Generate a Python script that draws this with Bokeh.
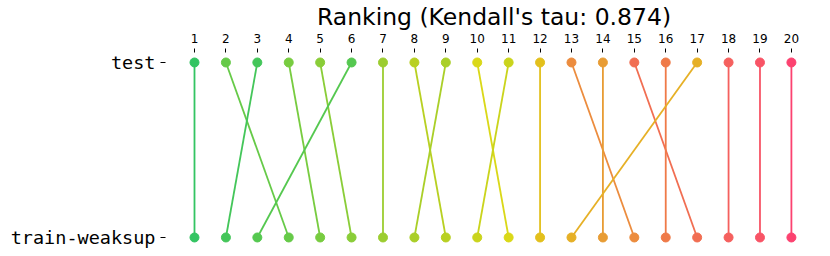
from bokeh.plotting import figure
from bokeh.models import FixedTicker
from bokeh.embed import file_html
from bokeh.resources import INLINE

# Data
ranks = list(range(1, 21))
test_rank = [1, 2, 3, 4, 5, 6, 7, 8, 9, 10, 11, 12, 13, 14, 15, 16, 17, 18, 19, 20]
train_rank = [1, 4, 2, 5, 6, 3, 7, 9, 8, 11, 10, 12, 15, 14, 17, 16, 13, 18, 19, 20]
row_labels = ["train-weaksup", "test"]
kendall_tau = 0.874
# palette ordered by train rank
palette = ["#33c462", "#44c65a", "#55c850", "#66ca48", "#78cc40", "#8acd38",
           "#9ccd30", "#aacf28", "#b8d022", "#cad41c", "#dad818", "#e3c01c",
           "#e6b026", "#e89c34", "#ec8c3e", "#ef7a48", "#f16e52", "#f5605e",
           "#f85466", "#fc4270"]

colors = [palette[r - 1] for r in train_rank]

p = figure(frame_width=657, frame_height=196, output_backend="svg", toolbar_location=None,
           x_range=(0.077, 20.99), y_range=(-0.063, 1.057), x_axis_location="above",
           title="Ranking (Kendall's tau: %.3f)" % kendall_tau,
           min_border_left=165, min_border_right=0, min_border_top=0, min_border_bottom=0)
p.title.text_font = "DejaVu Sans"
p.title.text_font_size = "23.5px"
p.title.text_font_style = "normal"
p.title.align = "center"
p.title.text_color = "#000000"
p.title.standoff = 0
p.title.offset = 0

p.outline_line_color = None
p.grid.visible = False

xs = [[t, r] for t, r in zip(test_rank, train_rank)]
ys = [[1, 0] for _ in test_rank]
p.multi_line(xs=xs, ys=ys, line_color=colors, line_width=1.8)
p.scatter(x=test_rank, y=[1] * 20, size=9, color=colors)
p.scatter(x=train_rank, y=[0] * 20, size=9, color=colors)

xa = p.xaxis[0]
xa.ticker = FixedTicker(ticks=ranks)
xa.axis_line_color = None
xa.major_tick_in = 0
xa.major_tick_out = 4
xa.minor_tick_line_color = None
xa.major_label_text_font = "DejaVu Sans"
xa.major_label_text_font_size = "12px"
xa.major_label_text_color = "#000000"
xa.major_label_standoff = 6

ya = p.yaxis[0]
ya.ticker = FixedTicker(ticks=[0, 1])
ya.major_label_overrides = {0: row_labels[0], 1: row_labels[1]}
ya.axis_line_color = None
ya.major_tick_in = 0
ya.major_tick_out = 5
ya.minor_tick_line_color = None
ya.major_label_text_font = "DejaVu Sans Mono"
ya.major_label_text_font_size = "18.5px"
ya.major_label_text_color = "#000000"
ya.major_label_standoff = 5

open("out.html", "w").write(file_html(p, INLINE))
